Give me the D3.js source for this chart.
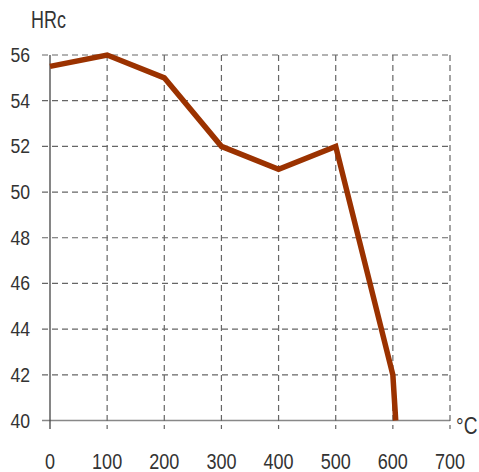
<!DOCTYPE html>
<html>
<head>
<meta charset="utf-8">
<script src="https://cdn.jsdelivr.net/npm/d3@7.9.0/dist/d3.min.js"></script>
<style>
  body { margin: 0; background: #fff; }
  text { font-family: "Liberation Sans", Arial, sans-serif; fill: #333; }
</style>
</head>
<body>
<svg width="479" height="472"></svg>
<script>
const temps = [0, 100, 200, 300, 400, 500, 600, 605];
const hardness = [55.5, 56, 55, 52, 51, 52, 42, 40];
const xTicks = [0, 100, 200, 300, 400, 500, 600, 700];
const yTicks = [40, 42, 44, 46, 48, 50, 52, 54, 56];

const svg = d3.select('svg');
const x = d3.scaleLinear().domain([0, 700]).range([50, 450]);
const y = d3.scaleLinear().domain([40, 56]).range([420.5, 55]);

// horizontal grid
svg.selectAll('.hgrid').data(yTicks).join('line')
  .attr('x1', 42).attr('x2', 450)
  .attr('y1', d => y(d)).attr('y2', d => y(d))
  .attr('stroke', d => d === 40 ? '#888' : '#666')
  .attr('stroke-width', d => d === 40 ? 1.6 : 1.2)
  .attr('stroke-dasharray', d => d === 40 ? null : '6,4');

// vertical grid
svg.selectAll('.vgrid').data(xTicks).join('line')
  .attr('x1', d => x(d)).attr('x2', d => x(d))
  .attr('y1', y(56)).attr('y2', 429)
  .attr('stroke', d => d === 0 ? '#444' : '#666')
  .attr('stroke-width', d => d === 0 ? 1.3 : 1.2)
  .attr('stroke-dasharray', d => d === 0 ? null : '6,4');

// labels (slightly condensed)
svg.selectAll('.ylab').data(yTicks).join('text')
  .attr('transform', d => `translate(30,${y(d) + 7}) scale(0.86,1)`)
  .attr('text-anchor', 'end').attr('font-size', 20.5)
  .text(d => d);

svg.selectAll('.xlab').data(xTicks).join('text')
  .attr('transform', d => `translate(${x(d)},468.5) scale(0.82,1)`)
  .attr('text-anchor', 'middle').attr('font-size', 22)
  .text(d => d);

svg.append('text').attr('transform', 'translate(31,28) scale(0.78,1)')
  .attr('font-size', 23).text('HRc');
svg.append('text').attr('transform', 'translate(456,433.5) scale(0.83,1)')
  .attr('font-size', 23).text('°C');

// curve
const line = d3.line().x((d, i) => x(temps[i])).y(d => y(d));
svg.append('path')
  .attr('d', line(hardness))
  .attr('fill', 'none')
  .attr('stroke', '#9b3200')
  .attr('stroke-width', 5.5)
  .attr('stroke-linejoin', 'miter');
</script>
</body>
</html>
